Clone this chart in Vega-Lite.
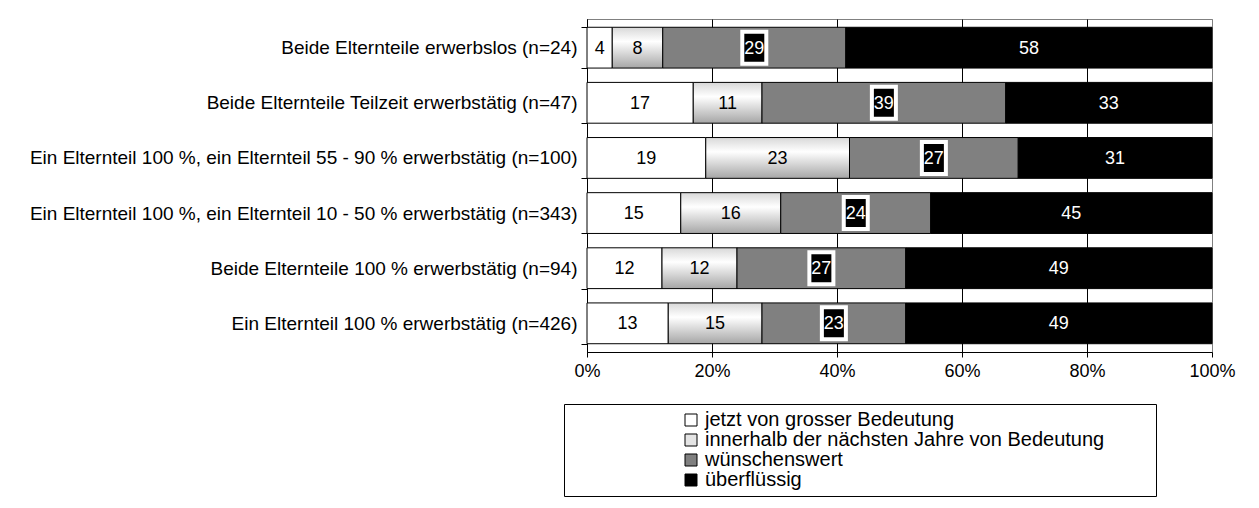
{
  "$schema": "https://vega.github.io/schema/vega-lite/v6.json",
  "autosize": "none",
  "width": 625,
  "height": 333,
  "padding": {"left": 587, "top": 19, "right": 47, "bottom": 156},
  "background": "white",
  "config": {
    "view": {"stroke": "#808080", "strokeWidth": 1},
    "font": "Liberation Sans"
  },
  "data": {
    "values": [
      {"group": "Beide Elternteile erwerbslos (n=24)", "cat": "jetzt von grosser Bedeutung", "k": 1, "value": 4},
      {"group": "Beide Elternteile erwerbslos (n=24)", "cat": "innerhalb der nächsten Jahre von Bedeutung", "k": 2, "value": 8},
      {"group": "Beide Elternteile erwerbslos (n=24)", "cat": "wünschenswert", "k": 3, "value": 29},
      {"group": "Beide Elternteile erwerbslos (n=24)", "cat": "überflüssig", "k": 4, "value": 58},
      {"group": "Beide Elternteile Teilzeit erwerbstätig (n=47)", "cat": "jetzt von grosser Bedeutung", "k": 1, "value": 17},
      {"group": "Beide Elternteile Teilzeit erwerbstätig (n=47)", "cat": "innerhalb der nächsten Jahre von Bedeutung", "k": 2, "value": 11},
      {"group": "Beide Elternteile Teilzeit erwerbstätig (n=47)", "cat": "wünschenswert", "k": 3, "value": 39},
      {"group": "Beide Elternteile Teilzeit erwerbstätig (n=47)", "cat": "überflüssig", "k": 4, "value": 33},
      {"group": "Ein Elternteil 100 %, ein Elternteil 55 - 90 % erwerbstätig (n=100)", "cat": "jetzt von grosser Bedeutung", "k": 1, "value": 19},
      {"group": "Ein Elternteil 100 %, ein Elternteil 55 - 90 % erwerbstätig (n=100)", "cat": "innerhalb der nächsten Jahre von Bedeutung", "k": 2, "value": 23},
      {"group": "Ein Elternteil 100 %, ein Elternteil 55 - 90 % erwerbstätig (n=100)", "cat": "wünschenswert", "k": 3, "value": 27},
      {"group": "Ein Elternteil 100 %, ein Elternteil 55 - 90 % erwerbstätig (n=100)", "cat": "überflüssig", "k": 4, "value": 31},
      {"group": "Ein Elternteil 100 %, ein Elternteil 10 - 50 % erwerbstätig (n=343)", "cat": "jetzt von grosser Bedeutung", "k": 1, "value": 15},
      {"group": "Ein Elternteil 100 %, ein Elternteil 10 - 50 % erwerbstätig (n=343)", "cat": "innerhalb der nächsten Jahre von Bedeutung", "k": 2, "value": 16},
      {"group": "Ein Elternteil 100 %, ein Elternteil 10 - 50 % erwerbstätig (n=343)", "cat": "wünschenswert", "k": 3, "value": 24},
      {"group": "Ein Elternteil 100 %, ein Elternteil 10 - 50 % erwerbstätig (n=343)", "cat": "überflüssig", "k": 4, "value": 45},
      {"group": "Beide Elternteile 100 % erwerbstätig (n=94)", "cat": "jetzt von grosser Bedeutung", "k": 1, "value": 12},
      {"group": "Beide Elternteile 100 % erwerbstätig (n=94)", "cat": "innerhalb der nächsten Jahre von Bedeutung", "k": 2, "value": 12},
      {"group": "Beide Elternteile 100 % erwerbstätig (n=94)", "cat": "wünschenswert", "k": 3, "value": 27},
      {"group": "Beide Elternteile 100 % erwerbstätig (n=94)", "cat": "überflüssig", "k": 4, "value": 49},
      {"group": "Ein Elternteil 100 % erwerbstätig (n=426)", "cat": "jetzt von grosser Bedeutung", "k": 1, "value": 13},
      {"group": "Ein Elternteil 100 % erwerbstätig (n=426)", "cat": "innerhalb der nächsten Jahre von Bedeutung", "k": 2, "value": 15},
      {"group": "Ein Elternteil 100 % erwerbstätig (n=426)", "cat": "wünschenswert", "k": 3, "value": 23},
      {"group": "Ein Elternteil 100 % erwerbstätig (n=426)", "cat": "überflüssig", "k": 4, "value": 49}
    ]
  },
  "encoding": {
    "y": {
      "field": "group", "type": "nominal", "sort": null,
      "scale": {"paddingInner": 0.26, "paddingOuter": 0.15},
      "axis": {
        "title": null, "labelFont": "Liberation Sans", "labelFontSize": 19, "labelColor": "black",
        "labelLimit": 700, "labelPadding": 4, "tickBand": "extent", "tickSize": 6,
        "tickColor": "black", "domainColor": "black", "grid": false
      }
    },
    "x": {
      "field": "value", "type": "quantitative", "stack": "normalize",
      "scale": {"domain": [0, 1]},
      "axis": {
        "title": null, "format": ".0%", "values": [0, 0.2, 0.4, 0.6, 0.8, 1],
        "labelFont": "Liberation Sans", "labelFontSize": 18, "labelColor": "black",
        "labelFlush": false, "labelOverlap": false,
        "labelPadding": 5, "tickSize": 5, "tickColor": "black", "domainColor": "black",
        "grid": true,
        "gridColor": {"condition": {"test": "datum.value === 1", "value": "#808080"}, "value": "black"},
        "gridOpacity": 1
      }
    },
    "order": {"field": "k", "type": "quantitative"}
  },
  "layer": [
    {
      "mark": {"type": "bar", "stroke": "black", "strokeWidth": 1},
      "encoding": {
        "fill": {
          "field": "cat", "type": "nominal",
          "condition": {
            "test": "datum.k === 2",
            "value": {"gradient": "linear", "x1": 0, "y1": 0, "x2": 0, "y2": 1,
              "stops": [{"offset": 0, "color": "#d8d8d8"}, {"offset": 0.35, "color": "#ffffff"}, {"offset": 1, "color": "#a6a6a6"}]}
          },
          "scale": {
            "domain": ["jetzt von grosser Bedeutung", "innerhalb der nächsten Jahre von Bedeutung", "wünschenswert", "überflüssig"],
            "range": ["#ffffff", "#e4e4e4", "#808080", "#000000"]
          },
          "legend": {
            "orient": "none", "legendX": -23, "legendY": 385,
            "title": "\u00a0", "titleOrient": "right", "titleFontSize": 81, "titlePadding": 46,
            "strokeColor": "black", "padding": 6, "symbolOffset": 111,
            "symbolType": "square", "symbolSize": 144, "symbolStrokeColor": "black", "symbolStrokeWidth": 1,
            "labelFont": "Liberation Sans", "labelFontSize": 20, "labelColor": "black", "labelLimit": 700,
            "labelOffset": 4, "rowPadding": -4
          }
        }
      }
    },
    {
      "mark": {"type": "point", "filled": true, "shape": "M-0.75,-1H0.75V1H-0.75Z", "size": 1024, "strokeWidth": 4, "opacity": 1},
      "encoding": {
        "x": {"field": "value", "type": "quantitative", "stack": "normalize", "bandPosition": 0.5},
        "fill": {"condition": {"test": "datum.k === 3", "value": "black"}, "value": "transparent"},
        "stroke": {"condition": {"test": "datum.k === 3", "value": "white"}, "value": "transparent"}
      }
    },
    {
      "mark": {"type": "text", "font": "Liberation Sans", "fontSize": 18, "align": "center", "baseline": "middle", "dy": 1},
      "encoding": {
        "x": {"field": "value", "type": "quantitative", "stack": "normalize", "bandPosition": 0.5},
        "text": {"field": "value", "type": "quantitative"},
        "fill": {"condition": {"test": "datum.k >= 3", "value": "white"}, "value": "black"}
      }
    }
  ]
}
